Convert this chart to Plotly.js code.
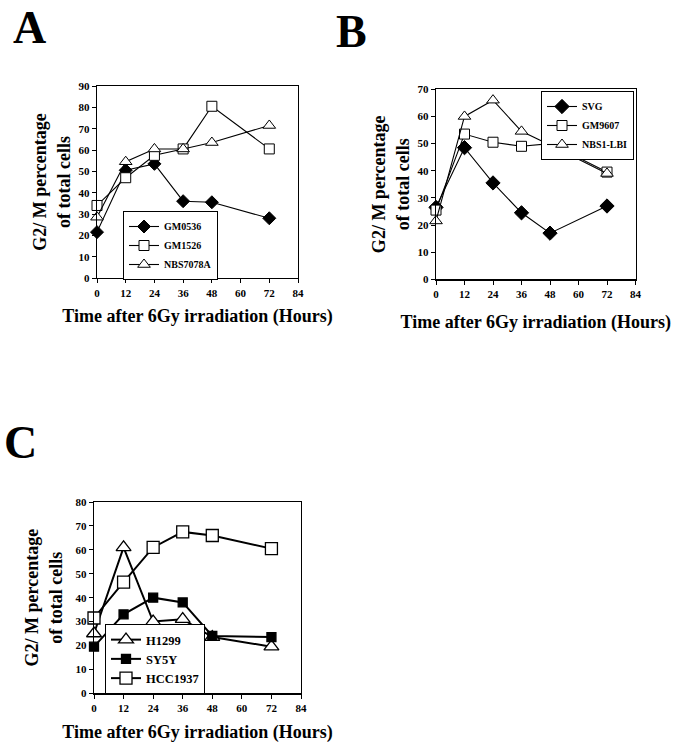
<!DOCTYPE html>
<html>
<head>
<meta charset="utf-8">
<script src="https://cdn.plot.ly/plotly-3.0.1.min.js"></script>
<style>
html,body{margin:0;padding:0;background:#fff;}
#chart{width:677px;height:748px;}
</style>
</head>
<body>
<div id="chart"></div>
<script>
// ---------- data ----------
var hours = [0, 12, 24, 36, 48, 72];
var xTicks = [0, 12, 24, 36, 48, 60, 72, 84];

// Panel A
var namesA = ["GM0536", "GM1526", "NBS7078A"];
var gm0536 = [21.5, 50.5, 53.5, 36, 35.5, 28];
var gm1526 = [34, 47, 57.5, 60.5, 80.5, 60.5];
var nbs7078a = [28.5, 54.5, 60.5, 60.5, 63.5, 71.5];

// Panel B
var namesB = ["SVG", "GM9607", "NBS1-LBI"];
var svg = [26.5, 48.5, 35.5, 24.5, 17, 27];
var gm9607 = [25.5, 53.5, 50.5, 49, 50, 39.5];
var nbs1lbi = [21.5, 60, 66, 54.5, 49.5, 39];

// Panel C
var namesC = ["H1299", "SY5Y", "HCC1937"];
var h1299 = [25, 61, 30, 31, 23.5, 19.5];
var sy5y = [19.5, 33, 40, 38, 24, 23.5];
var hcc1937 = [31.5, 46.5, 61, 67.5, 66, 60.5];

var xTitle = "Time after 6Gy irradiation (Hours)";
var yTitle = "G2/ M percentage<br>of total cells";
var panelLetters = ["A", "B", "C"];

// ---------- styling ----------
var FAM = "Liberation Serif, Times New Roman, serif";
function mk(name, y, xa, ya, lg, sym, fill, size, lw, mlw) {
  return {
    type: "scatter", mode: "lines+markers", name: name,
    x: hours, y: y, xaxis: xa, yaxis: ya, legend: lg,
    cliponaxis: false,
    line: {color: "#000", width: lw},
    marker: {symbol: sym, color: fill, size: size, line: {color: "#000", width: mlw}}
  };
}

var data = [
  mk(namesA[0], gm0536, "x", "y", "legend", "diamond", "#000", 10, 1.1, 1),
  mk(namesA[1], gm1526, "x", "y", "legend", "square", "#fff", 10, 1.1, 1),
  mk(namesA[2], nbs7078a, "x", "y", "legend", "triangle-up", "#fff", 11, 1.1, 1),
  mk(namesB[0], svg, "x2", "y2", "legend2", "diamond", "#000", 11, 1.1, 1),
  mk(namesB[1], gm9607, "x2", "y2", "legend2", "square", "#fff", 10, 1.1, 1),
  mk(namesB[2], nbs1lbi, "x2", "y2", "legend2", "triangle-up", "#fff", 11, 1.1, 1),
  mk(namesC[0], h1299, "x3", "y3", "legend3", "triangle-up", "#fff", 13, 2, 1.3),
  mk(namesC[1], sy5y, "x3", "y3", "legend3", "square", "#000", 9, 2, 1.3),
  mk(namesC[2], hcc1937, "x3", "y3", "legend3", "square", "#fff", 12, 2, 1.3)
];

function xax(dom, anchor, standoff) {
  return {
    domain: dom, anchor: anchor, range: [0, 84], tickvals: xTicks,
    showline: true, mirror: true, linecolor: "#000", linewidth: 1.3,
    ticks: "outside", ticklen: 4, tickcolor: "#000", tickwidth: 1,
    showgrid: false, zeroline: false, fixedrange: true,
    tickfont: {family: FAM, size: 11, color: "#000", weight: "bold"},
    title: {text: xTitle, standoff: standoff, font: {family: FAM, size: 18, color: "#000", weight: "bold"}}
  };
}
function yax(dom, anchor, max, standoff) {
  return {
    domain: dom, anchor: anchor, range: [0, max], dtick: 10, tick0: 0,
    showline: true, mirror: true, linecolor: "#000", linewidth: 1.3,
    ticks: "outside", ticklen: 4, tickcolor: "#000", tickwidth: 1,
    showgrid: false, zeroline: false, fixedrange: true,
    tickfont: {family: FAM, size: 11, color: "#000", weight: "bold"},
    title: {text: yTitle, standoff: standoff, font: {family: FAM, size: 18, color: "#000", weight: "bold"}}
  };
}
function leg(x, y, xanchor, size) {
  return {
    x: x, y: y, xanchor: xanchor, yanchor: "top", xref: "paper", yref: "paper",
    bgcolor: "#fff", bordercolor: "#000", borderwidth: 1,
    itemwidth: 30, traceorder: "normal",
    font: {family: FAM, size: size, color: "#000", weight: "bold"}
  };
}
function letter(t, x, y) {
  return {
    text: t, xref: "paper", yref: "paper", x: x, y: y, xanchor: "left", yanchor: "top",
    borderpad: 0, showarrow: false, font: {family: FAM, size: 46, color: "#000", weight: "bold"}
  };
}

var W = 677, H = 748;
function px(v) { return v / W; }
function py(v) { return 1 - v / H; }

var layout = {
  width: W, height: H,
  margin: {l: 0, r: 0, t: 0, b: 0},
  paper_bgcolor: "#fff", plot_bgcolor: "#fff",
  font: {family: FAM, color: "#000"},
  xaxis: xax([px(97), px(298)], "y", 12),
  yaxis: yax([py(278), py(86)], "x", 90, 3),
  xaxis2: xax([px(436), px(635.5)], "y2", 16),
  yaxis2: yax([py(279.3), py(89.3)], "x2", 70, 3),
  xaxis3: xax([px(94), px(301)], "y3", 12),
  yaxis3: yax([py(693.3), py(502)], "x3", 80, 8),
  legend: leg(px(123), py(211), "left", 10),
  legend2: leg(px(634), py(91), "right", 10),
  legend3: leg(px(105), py(624), "left", 12.5),
  annotations: [
    letter(panelLetters[0], px(12), py(1)),
    letter(panelLetters[1], px(335), py(5)),
    letter(panelLetters[2], px(3), py(416))
  ],
  showlegend: true
};

Plotly.newPlot("chart", data, layout, {displayModeBar: false, staticPlot: true});
</script>
</body>
</html>
